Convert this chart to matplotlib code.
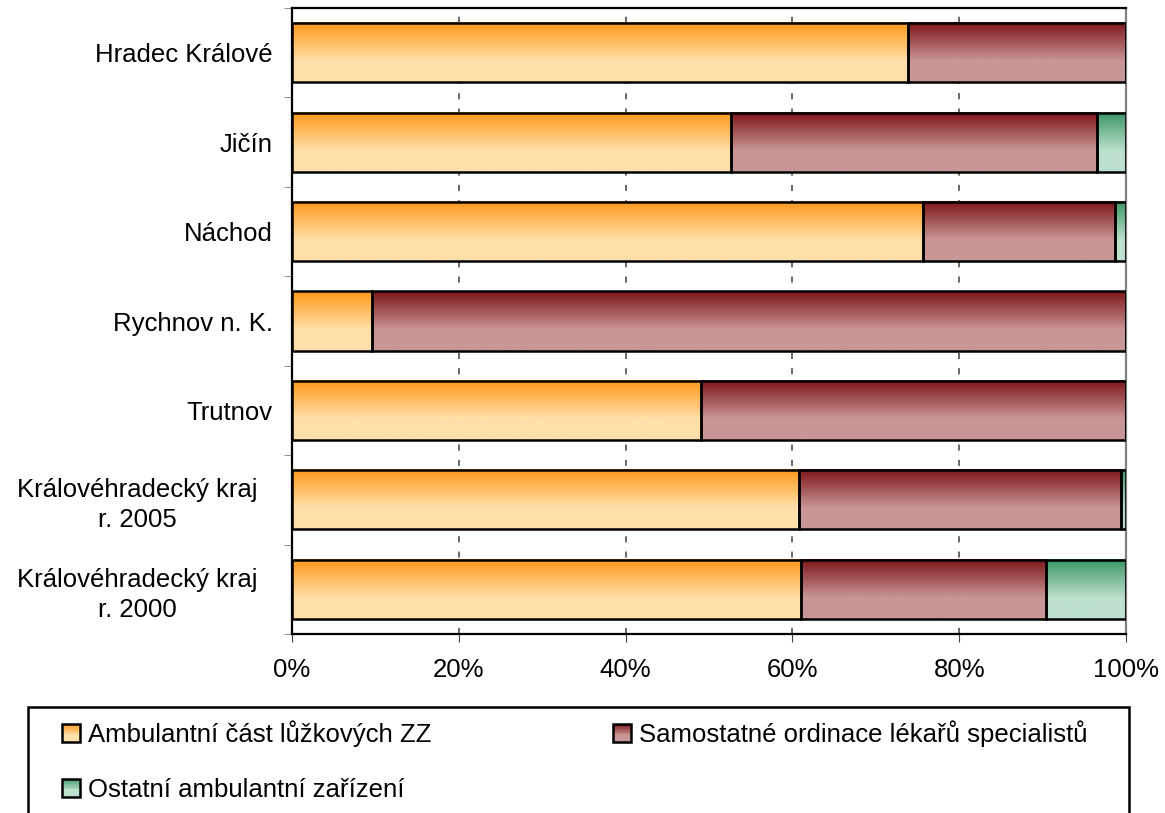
import numpy as np
import matplotlib
matplotlib.use("Agg")
import matplotlib.pyplot as plt
import matplotlib.transforms as mtransforms
from matplotlib.colors import LinearSegmentedColormap
from matplotlib.patches import Rectangle
from matplotlib.legend_handler import HandlerBase
from matplotlib.ticker import FuncFormatter

plt.rcParams["font.family"] = ["Liberation Sans", "DejaVu Sans"]

categories = [
    "Hradec Králové",
    "Jičín",
    "Náchod",
    "Rychnov n. K.",
    "Trutnov",
    "Královéhradecký kraj\nr. 2005",
    "Královéhradecký kraj\nr. 2000",
]
ambulantni_lzz = [73.9, 52.6, 75.7, 9.6, 49.0, 60.8, 61.0]
samostatne_ordinace = [26.1, 43.9, 23.0, 90.4, 51.0, 38.6, 29.4]
ostatni_zarizeni = [0.0, 3.5, 1.3, 0.0, 0.0, 0.6, 9.6]

series = [
    ("Ambulantní část lůžkových ZZ", ambulantni_lzz, "#FFE0AA", "#FF9819"),
    ("Samostatné ordinace lékařů specialistů", samostatne_ordinace, "#C99696", "#7D1418"),
    ("Ostatní ambulantní zařízení", ostatni_zarizeni, "#BEE0CE", "#3A9566"),
]

FONT = 18.5
W, H = 1165, 813


def make_cmap(light, dark):
    return LinearSegmentedColormap.from_list("g", [(0.0, light), (0.35, light), (1.0, dark)])


class GradientHandler(HandlerBase):
    def __init__(self, cmap):
        super().__init__()
        self.cmap = cmap

    def create_artists(self, legend, orig_handle, xdescent, ydescent, width, height, fontsize, trans):
        side = height
        x = -xdescent
        y = -ydescent
        n = 10
        artists = []
        for i in range(n):
            artists.append(Rectangle((x, y + side * i / n), side, side / n,
                                     facecolor=self.cmap((i + 0.5) / n), edgecolor="none",
                                     transform=trans))
        artists.append(Rectangle((x, y), side, side, facecolor="none", edgecolor="black",
                                 linewidth=1.8, transform=trans))
        return artists


fig = plt.figure(figsize=(W / 100, H / 100), dpi=100)
ax = fig.add_axes([292 / W, 1 - 634 / H, (1126 - 292) / W, (634 - 8) / H])

ypos = np.arange(len(categories))
bar_h = 0.66
left = np.zeros(len(categories))
grad = np.linspace(0, 1, 256).reshape(-1, 1)
handles = {}
handler_map = {}

for label, values, light, dark in series:
    cmap = make_cmap(light, dark)
    vals = np.array(values)
    bars = ax.barh(ypos, vals, left=left, height=bar_h, facecolor="none",
                   edgecolor="black", linewidth=1.8, zorder=3)
    for b, v in zip(bars, vals):
        if v <= 0:
            continue
        x0, y0 = b.get_x(), b.get_y()
        ax.imshow(grad, extent=(x0, x0 + b.get_width(), y0 + b.get_height(), y0),
                  origin="lower", aspect="auto", cmap=cmap, zorder=2, interpolation="bilinear")
    left = left + vals
    h = Rectangle((0, 0), 1, 1)
    handles[label] = h
    handler_map[h] = GradientHandler(cmap)

ax.set_xlim(0, 100)
ax.set_ylim(len(categories) - 0.5, -0.5)
ax.set_xticks(np.arange(0, 101, 20))
ax.xaxis.set_major_formatter(FuncFormatter(lambda v, p: f"{v:.0f}%"))
ax.set_yticks(ypos)
ax.set_yticklabels(categories, multialignment="center", linespacing=1.32)
ax.set_yticks(np.arange(-0.5, len(categories), 1.0), minor=True)
ax.tick_params(axis="y", which="major", length=0, pad=14, labelsize=FONT)
ax.tick_params(axis="y", which="minor", length=6, color="#808080", direction="out")
ax.tick_params(axis="x", which="major", length=6, color="#404040", direction="out",
               pad=11, labelsize=FONT)
ax.grid(True, axis="x", linestyle=(0, (4, 6)), color="#404040", linewidth=1.1, zorder=0)
ax.set_axisbelow(True)
for side in ("left", "bottom", "top"):
    ax.spines[side].set_color("black")
    ax.spines[side].set_linewidth(1.6)
ax.spines["right"].set_color("#808080")
ax.spines["right"].set_linewidth(1.6)

# wrapped labels sit a little further from the axis
shift = mtransforms.ScaledTranslation(-15 / 100, 0, fig.dpi_scale_trans)
for lbl, cat in zip(ax.get_yticklabels(), categories):
    if "\n" in cat:
        lbl.set_transform(lbl.get_transform() + shift)

# legend: frame drawn by hand, entries placed in two groups
fig.patches.append(Rectangle((28 / W, -0.05), (1129 - 28) / W, 1 - 707 / H + 0.05,
                             transform=fig.transFigure, facecolor="white",
                             edgecolor="black", linewidth=1.8, zorder=0))
leg_kw = dict(handler_map=handler_map, loc="upper left", fontsize=FONT, frameon=False,
              borderpad=0, borderaxespad=0, labelspacing=1.2, handlelength=0.7,
              handleheight=0.7, handletextpad=0.3)
col1 = [series[0][0], series[2][0]]
leg1 = fig.legend([handles[l] for l in col1], col1,
                  bbox_to_anchor=(62 / W, 1 - 720 / H), **leg_kw)
col2 = [series[1][0]]
leg2 = fig.legend([handles[l] for l in col2], col2,
                  bbox_to_anchor=(613 / W, 1 - 720 / H), **leg_kw)

fig.savefig("out.png", dpi=100)
